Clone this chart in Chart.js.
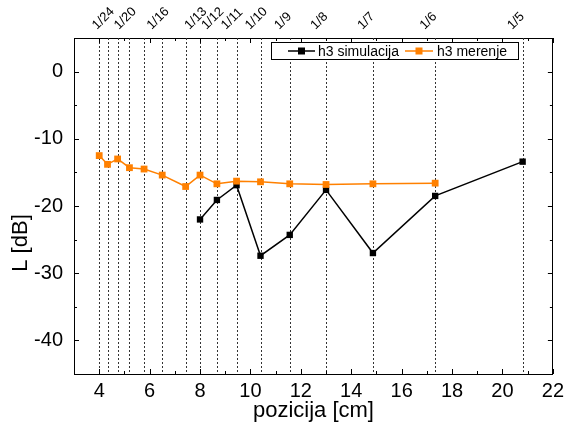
<!DOCTYPE html>
<html>
<head>
<meta charset="utf-8">
<script src="https://cdn.jsdelivr.net/npm/chart.js@4/dist/chart.umd.min.js"></script>
<style>
  html, body { margin: 0; padding: 0; background: #fff; }
  #wrap { width: 569px; height: 428px; }
</style>
</head>
<body>
<div id="wrap"><canvas id="c"></canvas></div>
<script>
// positions of the measuring points (cm) and levels (dB)
const simX = [8.0, 8.67, 9.45, 10.4, 11.56, 13.0, 14.86, 17.33, 20.8];
const simY = [-22.0, -19.1, -16.9, -27.4, -24.3, -17.6, -27.0, -18.5, -13.4];
const merX = [4.0, 4.33, 4.73, 5.2, 5.78, 6.5, 7.43, 8.0, 8.67, 9.45, 10.4, 11.56, 13.0, 14.86, 17.33];
const merY = [-12.5, -13.8, -13.0, -14.3, -14.5, -15.4, -17.1, -15.4, -16.7, -16.3, -16.4, -16.7, -16.8, -16.7, -16.6];

// dotted guide lines and the fraction labels on the top axis
const guideX    = [4.0, 4.33, 4.73, 5.2, 5.78, 6.5, 7.43, 8.0, 8.67, 9.45, 10.4, 11.56, 13.0, 14.86, 17.33, 20.8];
const topTickX  = [4.33, 5.2, 6.5, 8.0, 8.67, 9.45, 10.4, 11.56, 13.0, 14.86, 17.33, 20.8];
const topLabels = ["1/24", "1/20", "1/16", "1/13", "1/12", "1/11", "1/10", "1/9", "1/8", "1/7", "1/6", "1/5"];

// axis ticks
const xMajor = [4, 6, 8, 10, 12, 14, 16, 18, 20, 22];
const xMinor = [3, 5, 7, 9, 11, 13, 15, 17, 19, 21];
const yMajor = [-40, -30, -20, -10, 0];
const yMinor = [-35, -25, -15, -5];

const black  = "#000";
const orange = "#ff8000";
const fam    = "'Liberation Sans', Arial, sans-serif";

const setTicks = vals => s => { s.ticks = vals.map(v => ({ value: v })); };

const frame = {
  id: "frame",
  beforeDatasetsDraw(chart) {
    const { ctx, chartArea: a, scales: { x } } = chart;
    ctx.save();
    ctx.strokeStyle = "#333";
    ctx.lineWidth = 1;
    ctx.setLineDash([2, 2]);
    guideX.forEach(v => {
      const px = Math.round(x.getPixelForValue(v)) + 0.5;
      ctx.beginPath(); ctx.moveTo(px, a.top); ctx.lineTo(px, a.bottom); ctx.stroke();
    });
    ctx.restore();
  },
  afterDraw(chart) {
    const { ctx, chartArea: a, scales: { x, y } } = chart;
    ctx.save();
    ctx.strokeStyle = black;
    ctx.lineWidth = 1;
    const vt = (v, len) => {
      const px = Math.round(x.getPixelForValue(v)) + 0.5;
      ctx.beginPath();
      ctx.moveTo(px, a.bottom); ctx.lineTo(px, a.bottom - len);
      ctx.moveTo(px, a.top); ctx.lineTo(px, a.top + len);
      ctx.stroke();
    };
    const ht = (v, len) => {
      const py = Math.round(y.getPixelForValue(v)) + 0.5;
      ctx.beginPath();
      ctx.moveTo(a.left, py); ctx.lineTo(a.left + len, py);
      ctx.moveTo(a.right, py); ctx.lineTo(a.right - len, py);
      ctx.stroke();
    };
    xMajor.forEach(v => vt(v, 5));
    xMinor.forEach(v => vt(v, 3));
    yMajor.forEach(v => ht(v, 5));
    yMinor.forEach(v => ht(v, 3));

    // y title
    ctx.fillStyle = black;
    ctx.font = "22px " + fam;
    ctx.textAlign = "center";
    ctx.textBaseline = "middle";
    ctx.translate(21, 243);
    ctx.rotate(-Math.PI / 2);
    ctx.fillText("L [dB]", 0, 0);
    ctx.restore();

    // legend box
    ctx.save();
    ctx.fillStyle = "#fff";
    ctx.fillRect(271.5, 42.5, 247, 17);
    ctx.strokeStyle = black;
    ctx.lineWidth = 1;
    ctx.strokeRect(271.5, 42.5, 247, 17);
    const ly = 51;
    const item = (ds, x0, x1, tx) => {
      ctx.strokeStyle = ds.borderColor;
      ctx.lineWidth = 1.5;
      ctx.beginPath(); ctx.moveTo(x0, ly); ctx.lineTo(x1, ly); ctx.stroke();
      ctx.fillStyle = ds.backgroundColor;
      const m = (x0 + x1) / 2;
      ctx.fillRect(m - 3.5, ly - 3.5, 7, 7);
      ctx.fillStyle = black;
      ctx.font = "14px " + fam;
      ctx.textAlign = "left";
      ctx.textBaseline = "middle";
      ctx.fillText(ds.label, tx, ly + 1);
    };
    const dss = chart.data.datasets;
    item(dss[1], 288, 315, 318);
    item(dss[0], 405, 433, 437);
    ctx.restore();
  }
};

new Chart(document.getElementById("c"), {
  type: "line",
  data: {
    datasets: [
      {
        label: "h3 merenje",
        data: merX.map((v, i) => ({ x: v, y: merY[i] })),
        borderColor: orange, backgroundColor: orange,
        borderWidth: 1.5, pointStyle: "rect", pointRadius: 4.8,
        pointBorderWidth: 0, tension: 0
      },
      {
        label: "h3 simulacija",
        data: simX.map((v, i) => ({ x: v, y: simY[i] })),
        borderColor: black, backgroundColor: black,
        borderWidth: 1.5, pointStyle: "rect", pointRadius: 4.5,
        pointBorderWidth: 0, tension: 0
      }
    ]
  },
  options: {
    responsive: true,
    maintainAspectRatio: false,
    animation: false,
    layout: { padding: 0 },
    plugins: { legend: { display: false }, tooltip: { enabled: false } },
    scales: {
      x: {
        type: "linear", position: "bottom", min: 3, max: 22,
        afterBuildTicks: setTicks(xMajor),
        afterFit: s => { s.height = 54; },
        grid: { display: false, drawTicks: false },
        border: { display: true, color: black, width: 1 },
        ticks: { color: black, padding: 5, maxRotation: 0, autoSkip: false, font: { family: fam, size: 20 } },
        title: { display: true, text: "pozicija [cm]", color: black, padding: { top: 0, bottom: 4 }, font: { family: fam, size: 22 } }
      },
      xTop: {
        type: "linear", position: "top", min: 3, max: 22,
        afterBuildTicks: setTicks(topTickX),
        afterFit: s => { s.height = 38; },
        grid: { display: false, drawTicks: false },
        border: { display: true, color: black, width: 1 },
        ticks: {
          color: black, padding: 5, minRotation: 45, maxRotation: 45, autoSkip: false,
          labelOffset: -2, font: { family: fam, size: 13 },
          callback: (v, i) => topLabels[i]
        }
      },
      y: {
        type: "linear", position: "left", min: -45, max: 5,
        afterBuildTicks: setTicks(yMajor),
        afterFit: s => { s.width = 74; },
        grid: { display: false, drawTicks: false },
        border: { display: true, color: black, width: 1 },
        ticks: { color: black, padding: 11, font: { family: fam, size: 20 } }
      },
      yRight: {
        type: "linear", position: "right", min: -45, max: 5,
        afterFit: s => { s.width = 16; },
        grid: { display: false, drawTicks: false },
        border: { display: true, color: black, width: 1 },
        ticks: { display: false }
      }
    }
  },
  plugins: [frame]
});
</script>
</body>
</html>
